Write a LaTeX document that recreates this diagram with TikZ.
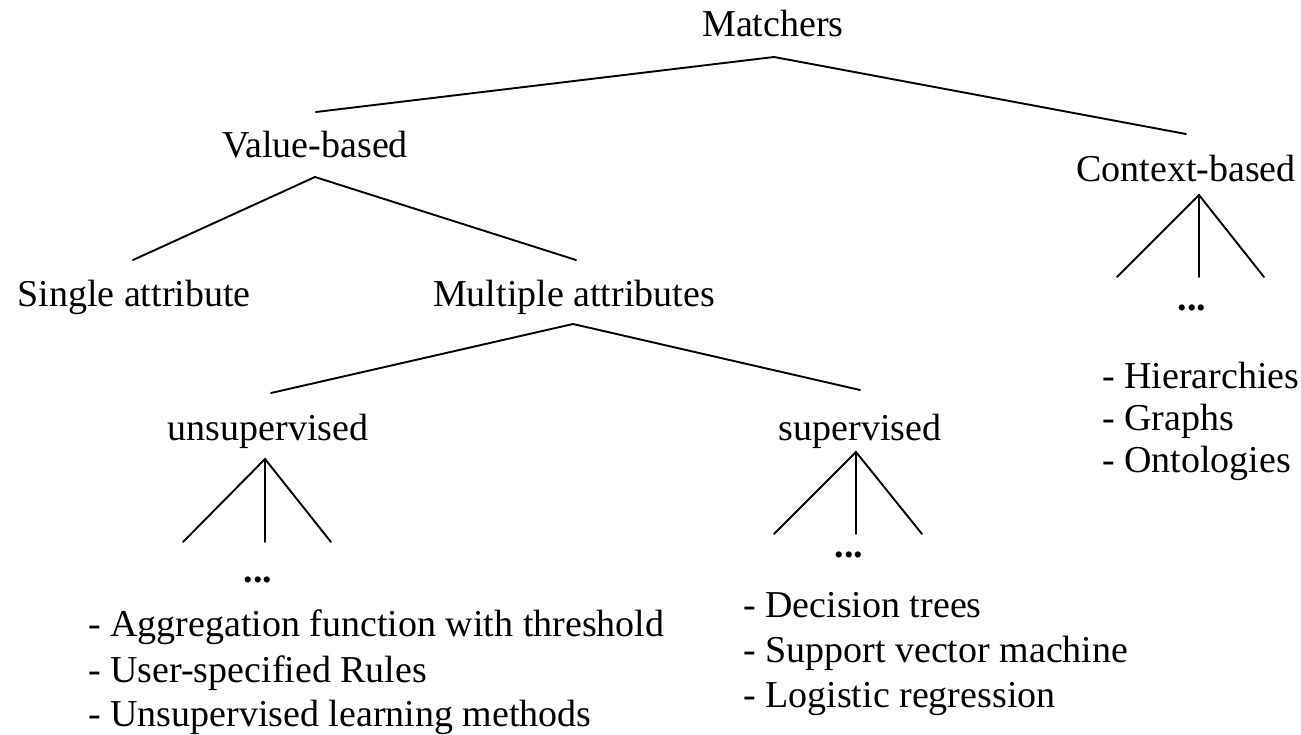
\documentclass[tikz,border=0pt]{standalone}
\usepackage{fontspec}
\setmainfont{Liberation Serif}
\begin{document}
\begin{tikzpicture}[x=1pt,y=-1pt,
  lbl/.style={inner sep=0pt,anchor=base,font=\fontsize{38}{44}\selectfont},
  item/.style={inner sep=0pt,anchor=base west,font=\fontsize{38}{44}\selectfont},
  dotsnode/.style={inner sep=0pt,anchor=base,font=\fontsize{38}{44}\selectfont\bfseries},
  edge/.style={line width=1.9pt,line cap=round,line join=miter}]
\useasboundingbox (0,0) rectangle (1301,735);
% labels
\node[lbl] (match) at (773,37) {Matchers};
\node[lbl] (value) at (315,158) {Value-based};
\node[lbl] (context) at (1186,182) {Context-based};
\node[lbl] (single) at (134,306) {Single attribute};
\node[lbl] (multi) at (574,306) {Multiple attributes};
\node[lbl] (unsup) at (268,440) {unsupervised};
\node[lbl] (sup) at (860,440) {supervised};
% dots
\node[dotsnode] (udots) at (258,582) {...};
\node[dotsnode] (sdots) at (849,557) {...};
\node[dotsnode] (cdots) at (1192,311) {...};
% lists
\node[item] (u1) at (88,636) {- Aggregation function with threshold};
\node[item] (u2) at (88,682) {- User-specified Rules};
\node[item] (u3) at (88,726) {- Unsupervised learning methods};
\node[item] (s1) at (743,617) {- Decision trees};
\node[item] (s2) at (743,662) {- Support vector machine};
\node[item] (s3) at (743,707) {- Logistic regression};
\node[item] (c1) at (1102,388) {- Hierarchies};
\node[item] (c2) at (1102,430) {- Graphs};
\node[item] (c3) at (1102,472) {- Ontologies};
% connector points
\coordinate (mA) at (774,57);
\coordinate (mL) at (316,112);
\coordinate (mR) at (1186,134);
\coordinate (vA) at (315,177);
\coordinate (vL) at (133,260);
\coordinate (vR) at (576,260);
\coordinate (muA) at (573,324);
\coordinate (muL) at (271,393);
\coordinate (muR) at (860,390);
\coordinate (uA) at (265,459);
\coordinate (uL) at (183,542);
\coordinate (uM) at (265,542);
\coordinate (uR) at (331,542);
\coordinate (sA) at (856,452);
\coordinate (sL) at (774,534);
\coordinate (sM) at (856,534);
\coordinate (sR) at (922,534);
\coordinate (cA) at (1199,195);
\coordinate (cL) at (1117,277);
\coordinate (cM) at (1199,277);
\coordinate (cR) at (1264,277);
% connectors
\draw[edge] (mL) -- (mA) -- (mR);
\draw[edge] (vL) -- (vA) -- (vR);
\draw[edge] (muL) -- (muA) -- (muR);
\draw[edge] (uL) -- (uA) -- (uR);
\draw[edge] (uA) -- (uM);
\draw[edge] (sL) -- (sA) -- (sR);
\draw[edge] (sA) -- (sM);
\draw[edge] (cL) -- (cA) -- (cR);
\draw[edge] (cA) -- (cM);
\end{tikzpicture}
\end{document}
